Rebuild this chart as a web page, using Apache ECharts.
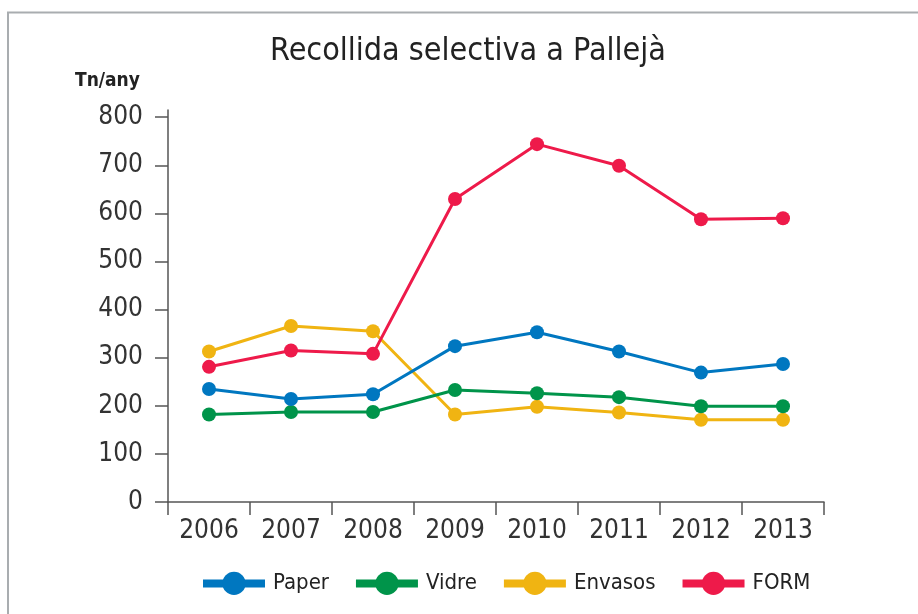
<!DOCTYPE html>
<html>
<head>
<meta charset="utf-8">
<script src="https://cdn.jsdelivr.net/npm/echarts@6/dist/echarts.min.js"></script>
<style>html,body{margin:0;padding:0;background:#fff}#c{width:918px;height:614px}</style>
</head>
<body>
<div id="c"></div>
<script>
var categories = ['2006','2007','2008','2009','2010','2011','2012','2013'];
var seriesNames = ['Paper','Vidre','Envasos','FORM'];
var paper   = [235, 214, 224, 324, 353, 313, 269, 287];
var vidre   = [182, 187, 187, 233, 226, 218, 199, 199];
var envasos = [313, 366, 355, 182, 198, 186, 171, 171];
var form    = [281, 315, 308, 630, 744, 699, 588, 590];
var yTicks  = [0, 100, 200, 300, 400, 500, 600, 700, 800];
var colors  = ['#0077c0', '#00944a', '#f0b412', '#ee1a4a'];
var FONT = '"DejaVu Sans Condensed", "Liberation Sans Narrow", sans-serif';

var chart = echarts.init(document.getElementById('c'), null, {renderer: 'canvas'});
var data = [paper, vidre, envasos, form];
chart.setOption({
  animation: false,
  textStyle: {fontFamily: FONT},
  graphic: [
    {type: 'polyline', silent: true, shape: {points: [[8, 620], [8, 12.5], [930, 12.5]]},
     style: {stroke: '#a9adb0', lineWidth: 2, fill: null}},
    {type: 'text', x: 75, y: 91, style: {text: 'Tn/any', font: 'bold 19px ' + FONT, fill: '#222', textVerticalAlign: 'bottom'}},
    {type: 'text', x: 468, y: 36, style: {text: 'Recollida selectiva a Pallejà', font: '32px ' + FONT, fill: '#222', textAlign: 'center', textVerticalAlign: 'top'}}
  ],
  legend: {
    bottom: 19, left: 199, padding: 0,
    itemWidth: 62, itemHeight: 29, itemGap: 23,
    lineStyle: {width: 8},
    textStyle: {fontFamily: FONT, fontSize: 22, color: '#222', padding: [0, 0, 0, 3]},
    data: seriesNames
  },
  grid: {left: 168, right: 94, top: 110, bottom: 112, containLabel: false},
  xAxis: {
    type: 'category', data: categories, boundaryGap: true,
    axisLine: {show: true, lineStyle: {color: '#555', width: 1.5}},
    axisTick: {show: true, length: 13, lineStyle: {color: '#555', width: 1.5}},
    axisLabel: {fontFamily: FONT, fontSize: 26, color: '#333', margin: 16}
  },
  yAxis: {
    type: 'value', min: 0, max: 815, interval: 100,
    splitLine: {show: false},
    axisLine: {show: true, lineStyle: {color: '#555', width: 1.5}},
    axisTick: {show: true, length: 13, lineStyle: {color: '#555', width: 1.5}, customValues: yTicks},
    axisLabel: {fontFamily: FONT, fontSize: 26, color: '#333', margin: 25, customValues: yTicks}
  },
  series: seriesNames.map(function (n, i) {
    return {
      name: n, type: 'line', data: data[i],
      symbol: 'circle', symbolSize: 14,
      itemStyle: {color: colors[i]},
      lineStyle: {color: colors[i], width: 3},
      z: i === 3 ? 5 : 3 - i
    };
  })
});
</script>
</body>
</html>
